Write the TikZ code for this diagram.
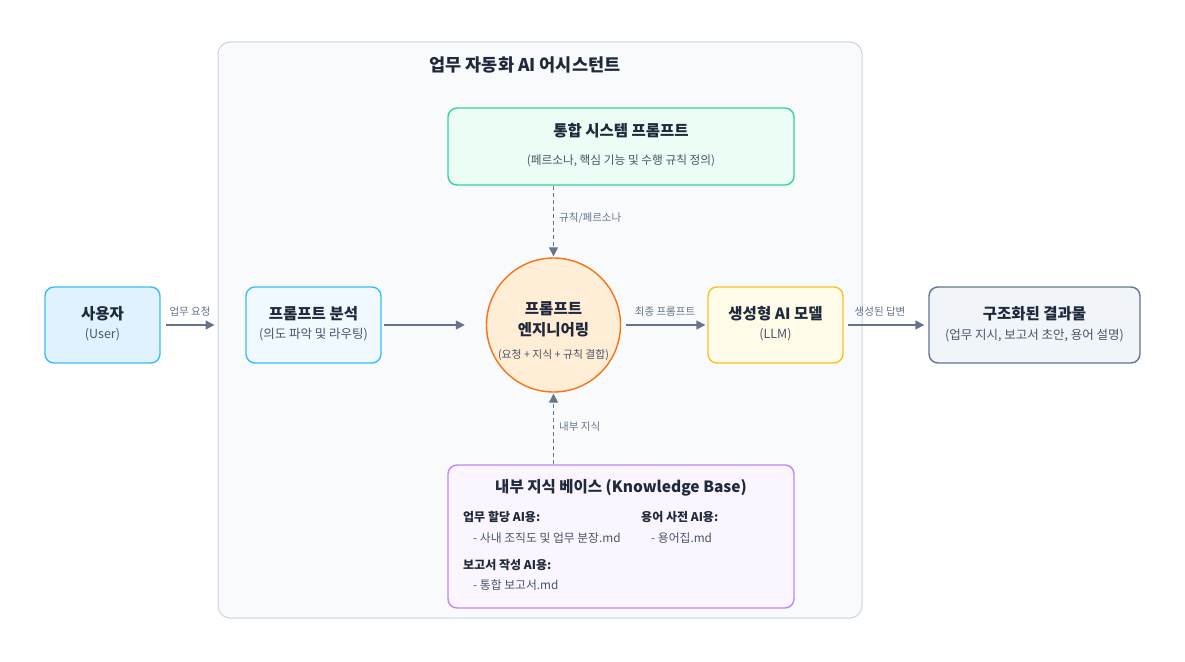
\documentclass[tikz,border=0pt]{standalone}
\usepackage{fontspec}
\setmainfont{Noto Sans CJK KR}
\usetikzlibrary{arrows.meta}
\definecolor{cont}{HTML}{F8FAFC}
\definecolor{contline}{HTML}{CBD5E1}
\definecolor{dark}{HTML}{1E293B}
\definecolor{sub}{HTML}{475569}
\definecolor{slate}{HTML}{64748B}
\definecolor{skyfill}{HTML}{E0F2FE}
\definecolor{skyline}{HTML}{38BDF8}
\definecolor{skyfill2}{HTML}{F0F9FF}
\definecolor{grfill}{HTML}{ECFDF5}
\definecolor{grline}{HTML}{34D399}
\definecolor{orfill}{HTML}{FFEDD5}
\definecolor{orline}{HTML}{F97316}
\definecolor{yefill}{HTML}{FEFCE8}
\definecolor{yeline}{HTML}{FBBF24}
\definecolor{rsfill}{HTML}{F1F5F9}
\definecolor{rsline}{HTML}{64748B}
\definecolor{pufill}{HTML}{FAF5FF}
\definecolor{puline}{HTML}{C084FC}
\tikzset{
  boxnode/.style={draw, rounded corners=9pt, line width=1.4pt, inner sep=0pt},
  ttl/.style={font=\bfseries\fontsize{15.5}{18}\selectfont, text=dark, inner sep=0pt},
  subt/.style={font=\fontsize{12.5}{15}\selectfont, text=sub, inner sep=0pt},
  lbl/.style={font=\fontsize{10.5}{12}\selectfont, text=slate, inner sep=0pt},
  kbh/.style={font=\bfseries\fontsize{12}{14}\selectfont, text=dark, inner sep=0pt, anchor=west},
  kbi/.style={font=\fontsize{11.8}{14}\selectfont, text=sub, inner sep=0pt, anchor=west},
  arr/.style={draw=slate, line width=1.5pt, -{Triangle[length=9pt,width=9pt]}},
  darr/.style={draw=slate, line width=1.3pt, dash pattern=on 4pt off 3pt, -{Triangle[length=9pt,width=9pt]}}
}
\begin{document}
\begin{tikzpicture}[x=1pt,y=-1pt]
\useasboundingbox[fill=white] (0,0) rectangle (1185,661);
% container
\node[draw=contline, fill=cont, rounded corners=12pt, line width=1pt, minimum width=644pt, minimum height=576pt, inner sep=0pt] (container) at (540,330) {};
\node[font=\bfseries\fontsize{17.5}{20}\selectfont, text=dark, inner sep=0pt] (ctitle) at (525,65) {업무 자동화 AI 어시스턴트};
% user
\node[boxnode, draw=skyline, fill=skyfill, minimum width=115pt, minimum height=76pt] (user) at (102.5,325) {};
\node[ttl] (userT) at (102.5,314) {사용자};
\node[subt] (userS) at (102.5,335) {(User)};
% analysis
\node[boxnode, draw=skyline, fill=skyfill2, minimum width=135pt, minimum height=76pt] (ana) at (313.5,325) {};
\node[ttl] (anaT) at (313.5,314) {프롬프트 분석};
\node[subt] (anaS) at (313.5,335) {(의도 파악 및 라우팅)};
% engineering circle
\node[circle, draw=orline, fill=orfill, line width=1.4pt, minimum size=134pt, inner sep=0pt] (eng) at (553.5,325) {};
\node[ttl] (engT1) at (553.5,309) {프롬프트};
\node[ttl] (engT2) at (553.5,330) {엔지니어링};
\node[font=\fontsize{10.8}{12}\selectfont, text=sub, inner sep=0pt] (engS) at (553.5,355) {(요청 + 지식 + 규칙 결합)};
% LLM
\node[boxnode, draw=yeline, fill=yefill, minimum width=135pt, minimum height=76pt] (llm) at (775.5,325) {};
\node[ttl] (llmT) at (775.5,314) {생성형 AI 모델};
\node[subt] (llmS) at (775.5,335) {(LLM)};
% result
\node[boxnode, draw=rsline, fill=rsfill, minimum width=211pt, minimum height=76pt] (res) at (1034.5,325) {};
\node[ttl] (resT) at (1034.5,314) {구조화된 결과물};
\node[subt] (resS) at (1034.5,336) {(업무 지시, 보고서 초안, 용어 설명)};
% system prompt
\node[boxnode, draw=grline, fill=grfill, minimum width=346pt, minimum height=77pt] (sys) at (621,146.5) {};
\node[ttl] (sysT) at (621,131) {통합 시스템 프롬프트};
\node[font=\fontsize{11.7}{14}\selectfont, text=sub, inner sep=0pt] (sysS) at (621,161) {(페르소나, 핵심 기능 및 수행 규칙 정의)};
% knowledge base
\node[boxnode, draw=puline, fill=pufill, minimum width=346pt, minimum height=143pt] (kb) at (621,536.5) {};
\node[ttl] (kbT) at (621,488) {내부 지식 베이스 (Knowledge Base)};
\node[kbh] (kb1h) at (463,517) {업무 할당 AI용:};
\node[kbi] (kb1i) at (473,538) {- 사내 조직도 및 업무 분장.md};
\node[kbh] (kb2h) at (463,565) {보고서 작성 AI용:};
\node[kbi] (kb2i) at (473,585) {- 통합 보고서.md};
\node[kbh] (kb3h) at (641,517) {용어 사전 AI용:};
\node[kbi] (kb3i) at (651,538) {- 용어집.md};
% connectors
\draw[arr, shorten <=5pt, shorten >=3pt] (user.east) -- (user.east -| container.west);
\node[lbl] (l1) at (190,312) {업무 요청};
\draw[arr, shorten <=2pt, shorten >=21pt] (ana.east) -- (eng.west);
\draw[arr, shorten <=5pt, shorten >=2pt] (eng.east) -- (llm.west);
\node[lbl] (l2) at (665,312) {최종 프롬프트};
\draw[arr, shorten <=4pt, shorten >=4pt] (llm.east) -- (res.west);
\node[lbl] (l3) at (880,312) {생성된 답변};
\draw[darr, shorten >=1pt] (sys.south -| eng.north) -- (eng.north);
\node[lbl, anchor=west] (l4) at (559,218) {규칙/페르소나};
\draw[darr, shorten >=1pt] (kb.north -| eng.south) -- (eng.south);
\node[lbl, anchor=west] (l5) at (559,427) {내부 지식};
\end{tikzpicture}
\end{document}
